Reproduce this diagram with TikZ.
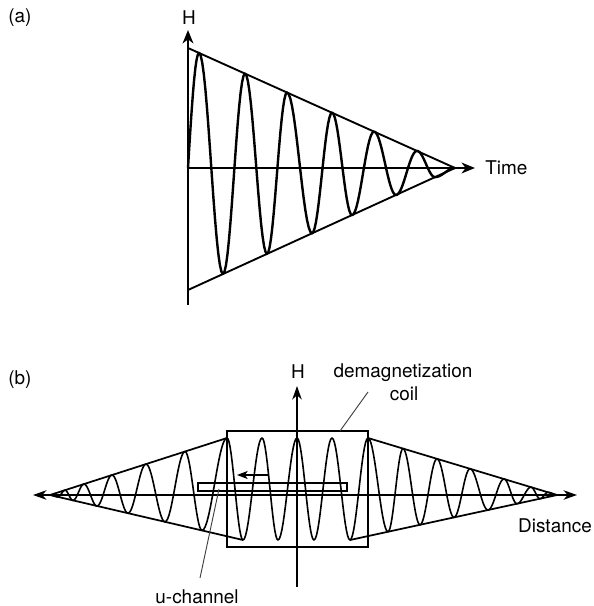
\documentclass[tikz,border=0pt]{standalone}
\usepackage{fontspec}
\setmainfont{TeX Gyre Heros}
\usetikzlibrary{arrows.meta}
\begin{document}
\begin{tikzpicture}[x=0.75pt,y=-0.75pt,
  lbl/.style={font=\fontsize{14.2}{17}\selectfont, inner sep=0pt},
  tipA/.style={-{Stealth[length=10pt,width=8pt,inset=3pt]}},
  axisA/.style={line width=1.9pt, tipA},
  envA/.style={line width=1.4pt, line join=round},
  waveA/.style={line width=1.8pt, line join=round},
  axisB/.style={line width=1.5pt},
  envB/.style={line width=1.3pt, line join=round},
  waveB/.style={line width=1.2pt, line join=round},
  boxB/.style={line width=1.1pt},
  leader/.style={line width=0.7pt, black!75}]
\useasboundingbox (0,0) rectangle (593,606);

% ---------- panel (a) ----------
\coordinate (aO) at (188,168);
\coordinate (aBot) at (188,305);
\coordinate (aTop) at (188,30);
\coordinate (aRight) at (475,168);
\coordinate (aUp) at (188,48);
\coordinate (aLow) at (188,290);
\coordinate (aApex) at (455,168);

\draw[envA] (aUp) -- (aApex) -- (aLow);
\draw[waveA] (aO) -- plot[variable=\t,domain=0:1,samples=10] ({188+11*\t},{168-115.1*sin(90*\t)})
  \foreach \xa/\ya/\xb/\yb in {199/52.9/223/274.0, 223/274.0/245/73.6, 245/73.6/267/253.9,
     267/253.9/287/92.5, 287/92.5/312/233.3, 312/233.3/332/112.7, 332/112.7/352/215.1,
     352/215.1/374/131.6, 374/131.6/396/195.0, 396/195.0/417/150.9, 417/150.9/435/177.1,
     435/177.1/455/168}
  { -- plot[variable=\t,domain=0:1,samples=16] ({\xa+(\xb-\xa)*\t},{\ya+(\yb-\ya)*(1-cos(180*\t))/2}) };
\draw[axisA] (aBot) -- (aTop);
\draw[axisA] (aO) -- (aRight);

\node[lbl, anchor=base west] (alab) at (8,23) {(a)};
\node[lbl, anchor=base] (aH) at (189,25) {H};
\node[lbl, anchor=base west] (aTime) at (485,175) {Time};

% ---------- panel (b) ----------
\coordinate (bL) at (33,495);
\coordinate (bR) at (577,495);
\coordinate (bBot) at (297,587);
\coordinate (bTop) at (297,386);
\coordinate (bApexL) at (50,495);
\coordinate (bApexR) at (557,495);
\coordinate (bUL) at (227,438);
\coordinate (bLL) at (243,540);
\coordinate (bUR) at (368,438);
\coordinate (bLR) at (350,540);
\coordinate (boxNW) at (227,431);
\coordinate (boxSE) at (368,547);
\coordinate (chNW) at (198,483);
\coordinate (chSE) at (347,491);

\draw[boxB] (boxNW) rectangle (boxSE);
\draw[boxB] (chNW) rectangle (chSE);
\draw[envB] (bUL) -- (bApexL) -- (bLL);
\draw[envB] (bUR) -- (bApexR) -- (bLR);
\draw[waveB] (bApexL)
  \foreach \xa/\ya/\xb/\yb in {50/495/58/496.9, 58/496.9/65/490.2, 65/490.2/73/500.4,
     73/500.4/84/484.1, 84/484.1/97/506.0, 97/506.0/112/475.0, 112/475.0/128/513.2,
     128/513.2/146/464.1, 146/464.1/165/521.8, 165/521.8/185/451.5, 185/451.5/202/530.4,
     202/530.4/227/438, 227/438/243/540, 243/540/262/438, 262/438/278/540, 278/540/297/438,
     297/438/314/540, 314/540/332/438, 332/438/350/540, 350/540/368/438, 368/438/388/531.7,
     388/531.7/403/448.6, 403/448.6/420/524.8, 420/524.8/437/458.8, 437/458.8/454/517.4,
     454/517.4/470/468.8, 470/468.8/488/510.0, 488/510.0/504/479.0, 504/479.0/517/503.7,
     517/503.7/531/487.2, 531/487.2/540/498.7, 540/498.7/548/492.3, 548/492.3/557/495}
  { -- plot[variable=\t,domain=0:1,samples=16] ({\xa+(\xb-\xa)*\t},{\ya+(\yb-\ya)*(1-cos(180*\t))/2}) };
\draw[axisB, {Stealth[length=10pt,width=7pt,inset=3pt]}-{Stealth[length=10pt,width=7pt,inset=3pt]}] (bL) -- (bR);
\draw[axisB, -{Stealth[length=10pt,width=7pt,inset=3pt]}] (bBot) -- (bTop);

% motion arrow
\coordinate (mvA) at (269,475);
\coordinate (mvB) at (237,475);
\draw[line width=1.1pt, -{Stealth[length=8pt,width=6pt,inset=2pt]}] (mvA) -- (mvB);

% labels
\node[lbl, anchor=base west] (blab) at (8,384) {(b)};
\node[lbl, anchor=base] (bH) at (298,378) {H};
\node[lbl, anchor=base] (demag) at (403,377) {demagnetization};
\node[lbl, anchor=base] (coil) at (404,400) {coil};
\node[lbl, anchor=base] (dist) at (555,532) {Distance};
\node[lbl, anchor=base] (uch) at (197,603) {u-channel};

\coordinate (coilA) at (368,392);
\coordinate (coilB) at (340,431);
\draw[leader] (coilA) -- (coilB);
\coordinate (uchA) at (219,489);
\coordinate (uchB) at (200,578);
\draw[leader] (uchA) -- (uchB);
\end{tikzpicture}
\end{document}
